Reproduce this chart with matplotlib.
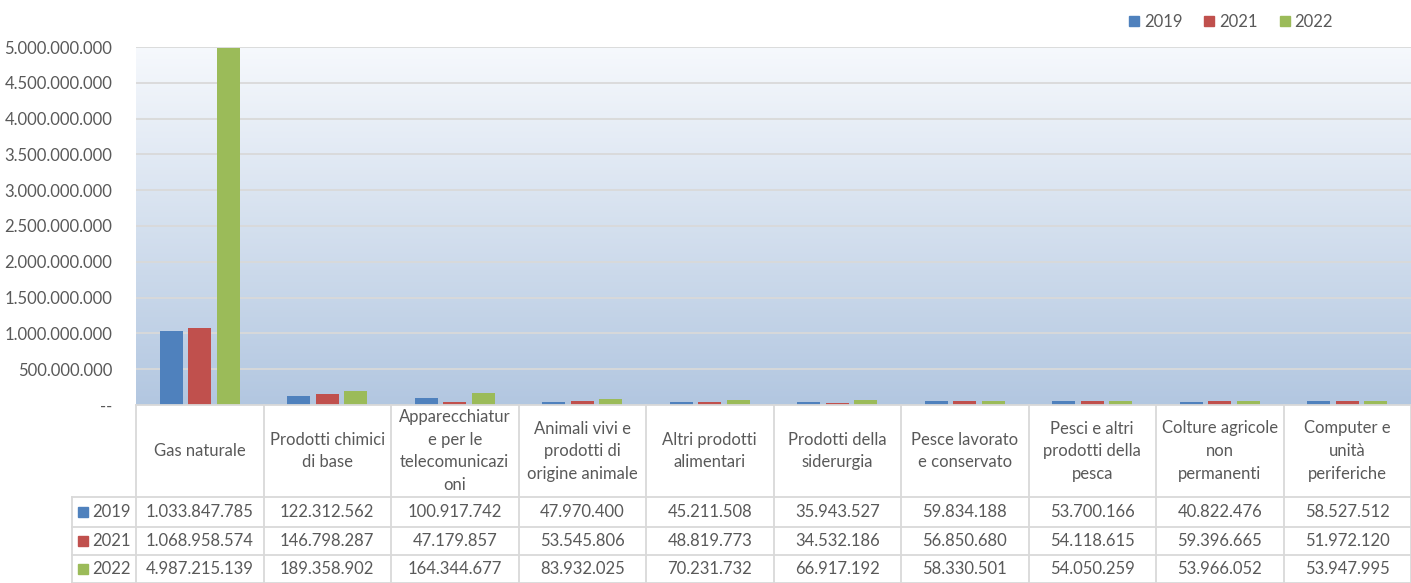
import numpy as np
import matplotlib
matplotlib.use("Agg")
import matplotlib.pyplot as plt
from matplotlib.lines import Line2D
from matplotlib.transforms import blended_transform_factory
from matplotlib.ticker import FuncFormatter

plt.rcParams['font.family'] = ['Lato', 'DejaVu Sans']

# categories (header labels wrapped as in the original)
categories = ["Gas naturale", "Prodotti chimici\ndi base", "Apparecchiatur\ne per le\ntelecomunicazi\noni",
              "Animali vivi e\nprodotti di\norigine animale", "Altri prodotti\nalimentari",
              "Prodotti della\nsiderurgia", "Pesce lavorato\ne conservato",
              "Pesci e altri\nprodotti della\npesca", "Colture agricole\nnon\npermanenti",
              "Computer e\nunità\nperiferiche"]
years = ["2019", "2021", "2022"]
v2019 = [1033847785, 122312562, 100917742, 47970400, 45211508, 35943527, 59834188, 53700166, 40822476, 58527512]
v2021 = [1068958574, 146798287, 47179857, 53545806, 48819773, 34532186, 56850680, 54118615, 59396665, 51972120]
v2022 = [4987215139, 189358902, 164344677, 83932025, 70231732, 66917192, 58330501, 54050259, 53966052, 53947995]
colors = ["#4F81BD", "#C0504D", "#9BBB59"]
yticks = np.arange(0, 5000000001, 500000000)

W, H = 1411, 583
TXT = "#595959"
GRID = "#d9d9d9"
FS = 12

def fmt(v):
    return f"{int(v):,}".replace(",", ".")

fig = plt.figure(figsize=(W / 100, H / 100), dpi=100)
# plot area in pixels: x 136..1411, y 47..405
ax = fig.add_axes([136 / W, 1 - 405 / H, (1411 - 136) / W, (405 - 47) / H])
n = len(categories)
x = np.arange(n)

# gradient background, light at the top, blue at the bottom
grad = np.linspace(0, 1, 256).reshape(-1, 1)
top = np.array([0.965, 0.975, 0.99])
bot = np.array([0.70, 0.78, 0.88])
img = top + (bot - top) * grad[:, :, None]
ax.imshow(img, extent=[-0.5, n - 0.5, 0, 5e9], aspect='auto', zorder=0, origin='upper')
ax.set_xlim(-0.5, n - 0.5)
ax.set_ylim(0, 5e9)

for t in yticks[1:]:
    ax.axhline(t, color=GRID, lw=1.3, zorder=1)

bw = 0.18
step = 0.224
for i, (vals, c) in enumerate(zip([v2019, v2021, v2022], colors)):
    ax.bar(x + (i - 1) * step, vals, width=bw, color=c, zorder=3)

ax.set_yticks(yticks)
ax.yaxis.set_major_formatter(FuncFormatter(lambda v, p: "--" if v == 0 else fmt(v)))
ax.tick_params(axis='y', length=0, labelsize=FS, labelcolor=TXT, pad=17)
ax.set_xticks([])
for s in ax.spines.values():
    s.set_visible(False)

# data table below the chart
tr = blended_transform_factory(ax.transData, fig.transFigure)
def fy(py):
    return 1 - py / H

y_head_top, y_head_bot = 405, 497
row_edges = [497, 527, 555, 583]
bounds = np.arange(n + 1) - 0.5

# horizontal lines
fig.add_artist(Line2D([bounds[0], bounds[-1]], [fy(y_head_top)] * 2, transform=tr, color=GRID, lw=1.3))
for py in row_edges:
    fig.add_artist(Line2D([72 / W, 1], [fy(py)] * 2, transform=fig.transFigure, color=GRID, lw=1.3))
# vertical lines
for b in bounds:
    fig.add_artist(Line2D([b, b], [fy(y_head_top), fy(583)], transform=tr, color=GRID, lw=1.3))
fig.add_artist(Line2D([72 / W, 72 / W], [fy(497), fy(583)], transform=fig.transFigure, color=GRID, lw=1.3))

for j, lab in enumerate(categories):
    fig.text(j, fy((y_head_top + y_head_bot) / 2), lab, transform=tr, ha='center', va='center',
             fontsize=FS, color=TXT, linespacing=1.5)

for r, (yr, vals, c) in enumerate(zip(years, [v2019, v2021, v2022], colors)):
    yc = fy((row_edges[r] + row_edges[r + 1]) / 2)
    fig.add_artist(Line2D([83 / W], [yc], marker='s', markersize=7, color=c, transform=fig.transFigure))
    fig.text(92 / W, yc, yr, ha='left', va='center', fontsize=FS, color=TXT)
    for j, v in enumerate(vals):
        fig.text(j, yc, fmt(v), transform=tr, ha='center', va='center', fontsize=FS, color=TXT)

handles = [Line2D([], [], marker='s', linestyle='none', markersize=7, color=c) for c in colors]
fig.legend(handles, years, loc='center right', bbox_to_anchor=(1348 / W, fy(22)), ncol=3,
           frameon=False, fontsize=FS, labelcolor=TXT, handletextpad=0.1, columnspacing=1.1,
           handlelength=1.0)

fig.savefig("out.png", dpi=100)
